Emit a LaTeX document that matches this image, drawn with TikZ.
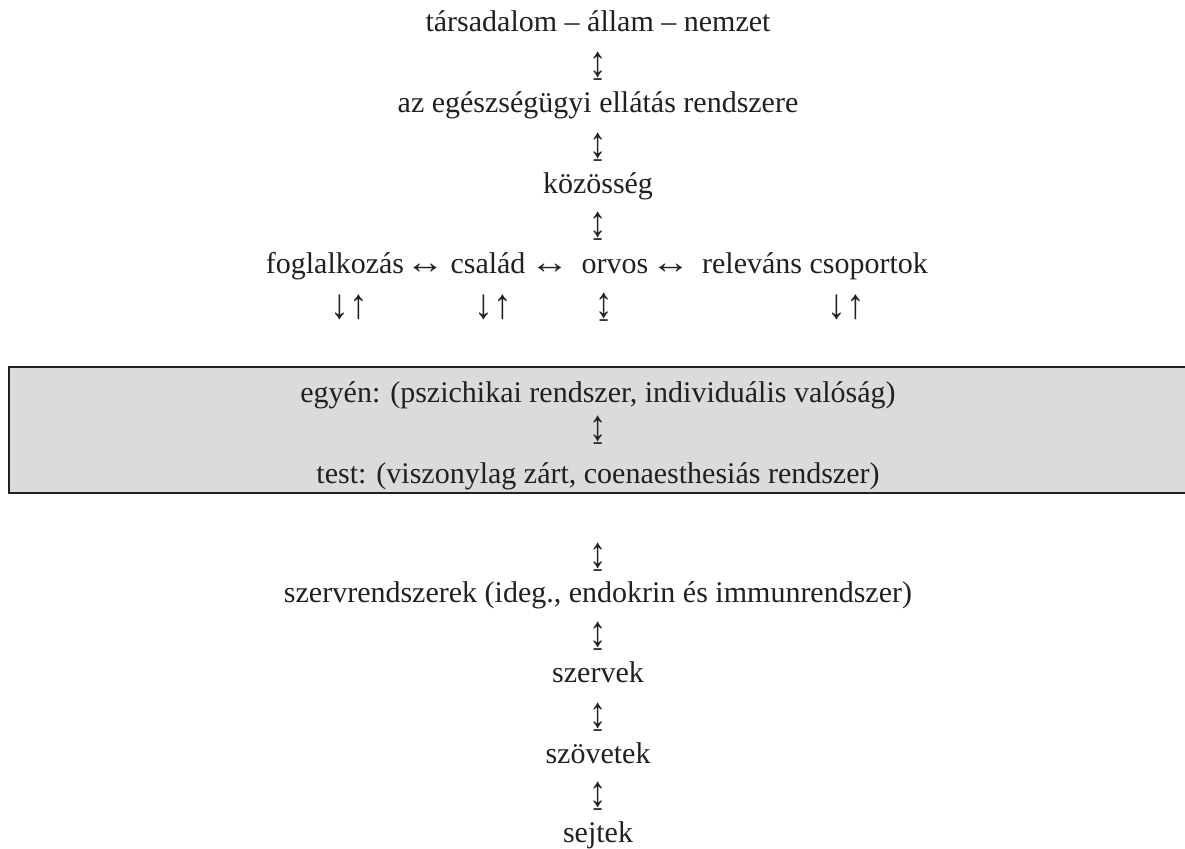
\documentclass[tikz,border=0pt]{standalone}
\usepackage{fontspec}
\usepackage{graphicx}
\setmainfont{Liberation Serif}
\definecolor{ink}{HTML}{231F20}
\definecolor{boxgray}{HTML}{DBDBDD}
\newcommand{\udglyph}{\scalebox{1.15}[1.45]{↨}}
\newcommand{\dnupglyph}{\scalebox{1.25}[1.4]{↓↑}}
\newcommand{\lrglyph}{\scalebox{1.3}[1.1]{↔}}
\begin{document}
\begin{tikzpicture}[x=1pt,y=-1pt,
  txt/.style={font=\fontsize{30}{36}\selectfont, text=ink, inner sep=0pt, anchor=base},
  arr/.style={font=\fontsize{30}{36}\selectfont, text=ink, inner sep=0pt, anchor=center},
  frame/.style={draw=ink, line width=2.8pt}]
\useasboundingbox (0,0) rectangle (1185,848);
% shaded band
\fill[boxgray] (9,367) rectangle (1185,493);
\draw[frame] (1185,367) -- (9,367) -- (9,493) -- (1185,493);
% upper column
\node[txt] (tarsadalom) at (598,32) {társadalom – állam – nemzet};
\node[arr] (a1) at (598,66.5) {\udglyph};
\node[txt] (ellatas) at (598,113) {az egészségügyi ellátás rendszere};
\node[arr] (a2) at (598,147) {\udglyph};
\node[txt] (kozosseg) at (598,193) {közösség};
\node[arr] (a3) at (598,226) {\udglyph};
% horizontal row
\node[txt] (foglalkozas) at (335,273) {foglalkozás};
\node[txt] (h1) at (425,273) {\lrglyph};
\node[txt] (csalad) at (488,273) {család};
\node[txt] (h2) at (549.5,273) {\lrglyph};
\node[txt] (orvos) at (615,273) {orvos};
\node[txt] (h3) at (670.5,273) {\lrglyph};
\node[txt] (relevans) at (815,273) {releváns csoportok};
\node[arr] (d1) at (349,307.5) {\dnupglyph};
\node[arr] (d2) at (493,307.5) {\dnupglyph};
\node[arr] (d3) at (604,307.5) {\udglyph};
\node[arr] (d4) at (846,307.5) {\dnupglyph};
% band content
\node[txt] (egyen) at (598,402) {egyén: (pszichikai rendszer, individuális valóság)};
\node[arr] (a4) at (598,430.5) {\udglyph};
\node[txt] (test) at (598,483) {test: (viszonylag zárt, coenaesthesiás rendszer)};
% lower column
\node[arr] (a5) at (598,557) {\udglyph};
\node[txt] (szervrendszerek) at (598,602) {szervrendszerek (ideg., endokrin és immunrendszer)};
\node[arr] (a6) at (598,636) {\udglyph};
\node[txt] (szervek) at (598,682) {szervek};
\node[arr] (a7) at (598,717.5) {\udglyph};
\node[txt] (szovetek) at (598,763) {szövetek};
\node[arr] (a8) at (598,796.5) {\udglyph};
\node[txt] (sejtek) at (598,842) {sejtek};
\end{tikzpicture}
\end{document}
